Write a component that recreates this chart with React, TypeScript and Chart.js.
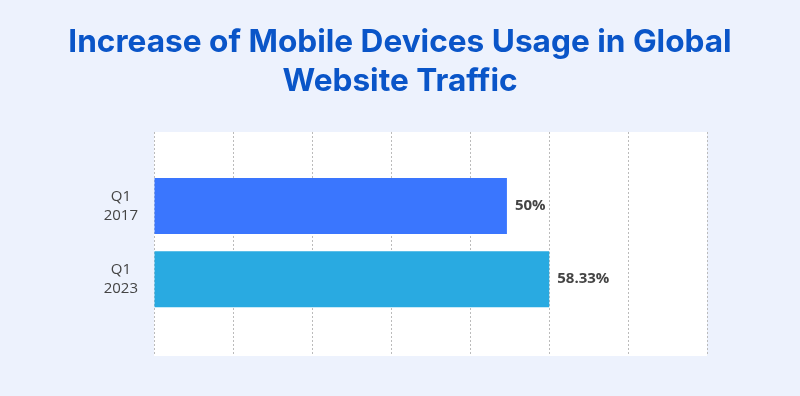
import React, { useEffect, useRef } from "react";
import { Chart, registerables } from "chart.js";

Chart.register(...registerables);

const titleLines = ["Increase of Mobile Devices Usage in Global", "Website Traffic"];
const categories = ["Q1 2017", "Q1 2023"];
const values = [50, 58.33];
const barColors = ["#3A76FE", "#29AAE1"];
const xMin = -19.5;
const xMax = 89.4;
const gridCount = 8;

const plotBackground = {
  id: "plotBackground",
  beforeDraw(chart: any) {
    const { ctx, chartArea } = chart;
    ctx.save();
    ctx.fillStyle = "#FFFFFF";
    ctx.fillRect(chartArea.left, chartArea.top, chartArea.right - chartArea.left, chartArea.bottom - chartArea.top);
    ctx.restore();
  },
};

const valueLabels = {
  id: "valueLabels",
  afterDatasetsDraw(chart: any) {
    const { ctx } = chart;
    const meta = chart.getDatasetMeta(0);
    ctx.save();
    ctx.font = "bold 15px 'Open Sans'";
    ctx.fillStyle = "#444444";
    ctx.textAlign = "left";
    ctx.textBaseline = "middle";
    meta.data.forEach((bar: any, i: number) => {
      ctx.fillText(values[i] + "%", bar.x + 8, bar.y);
    });
    ctx.restore();
  },
};

export default function App() {
  const canvasRef = useRef<HTMLCanvasElement | null>(null);

  useEffect(() => {
    if (!canvasRef.current) return;
    const chart = new Chart(canvasRef.current, {
      type: "bar",
      data: {
        datasets: [
          {
            data: values.map((v, i) => ({ x: v, y: i })),
            backgroundColor: barColors,
            base: xMin,
            barPercentage: 0.765,
            categoryPercentage: 1,
            borderWidth: 0,
          } as any,
        ],
      },
      options: {
        indexAxis: "y",
        animation: false,
        responsive: true,
        maintainAspectRatio: false,
        layout: { padding: { top: 0, left: 0, right: 0, bottom: 40 } },
        plugins: {
          legend: { display: false },
          tooltip: { enabled: false },
          title: {
            display: true,
            text: titleLines,
            color: "#0A55C8",
            font: { family: "Inter", size: 31.6, weight: "bold", lineHeight: 1.215 },
            padding: { top: 23.6, bottom: 31.6 },
          },
        },
        scales: {
          x: {
            type: "linear",
            min: xMin,
            max: xMax,
            afterBuildTicks: (scale: any) => {
              const step = (xMax - xMin) / (gridCount - 1);
              scale.ticks = Array.from({ length: gridCount }, (_, i) => ({ value: xMin + i * step }));
            },
            ticks: { display: false },
            grid: {
              color: "#BBBBBB",
              lineWidth: 1,
              drawTicks: false,
            },
            border: { display: false, dash: [2, 2] },
          } as any,
          y: {
            type: "linear",
            min: -1.01,
            max: 2.05,
            offset: false,
            reverse: true,
            afterBuildTicks: (scale: any) => {
              scale.ticks = categories.map((_, i) => ({ value: i }));
            },
            afterFit: (scale: any) => {
              scale.width = 154;
            },
            ticks: {
              crossAlign: "center",
              padding: 16,
              color: "#444444",
              font: { family: "Open Sans", size: 15, lineHeight: 1.27 },
              callback: (v: any) => (categories[v] ? categories[v].split(" ") : ""),
            },
            grid: { display: false, drawTicks: false, offset: false },
            border: { display: false },
          } as any,
          yRight: {
            type: "linear",
            position: "right",
            display: true,
            afterFit: (scale: any) => {
              scale.width = 93;
            },
            ticks: { display: false },
            grid: { display: false, drawTicks: false },
            border: { display: false },
          } as any,
        },
      },
      plugins: [plotBackground, valueLabels],
    });
    return () => chart.destroy();
  }, []);

  return (
    <div
      style={{
        position: "fixed",
        left: 0,
        top: 0,
        width: 800,
        height: 396,
        background: "#EDF2FD",
      }}
    >
      <canvas ref={canvasRef} />
    </div>
  );
}
